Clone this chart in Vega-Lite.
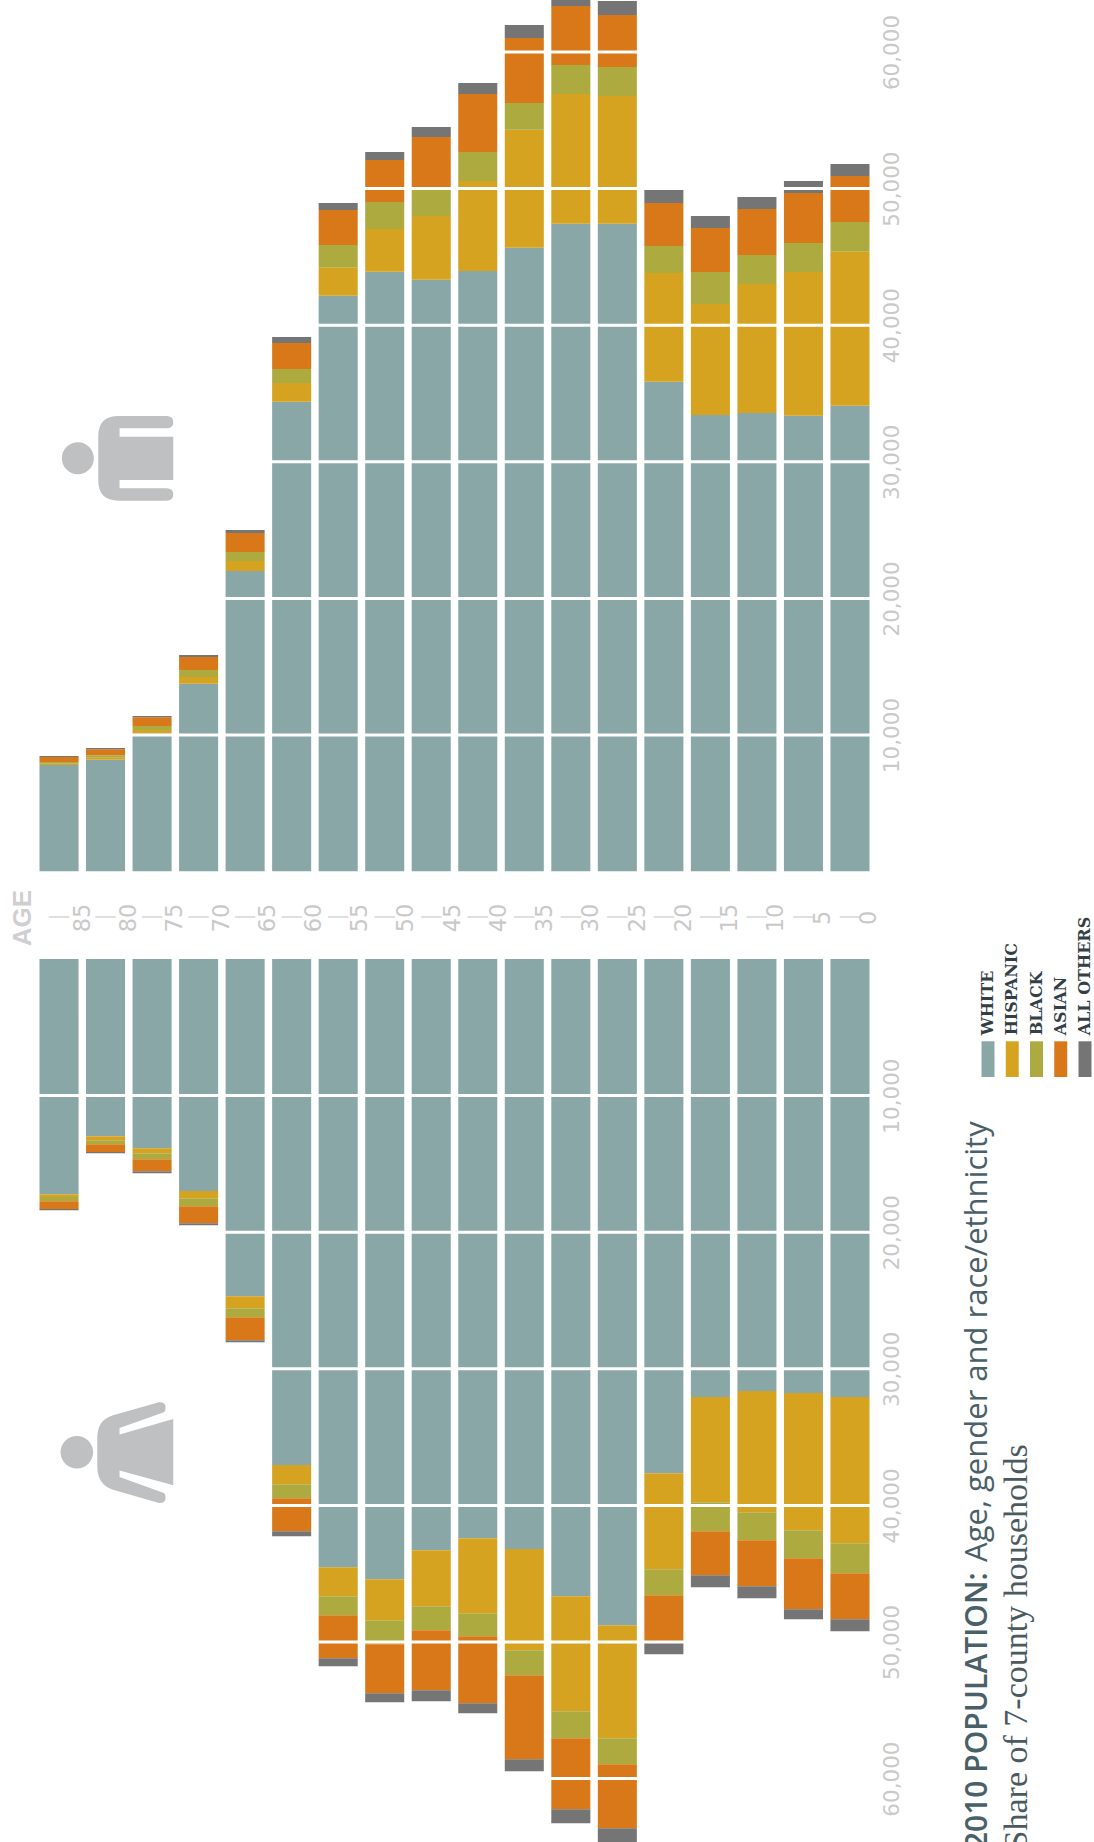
{"$schema":"https://vega.github.io/schema/vega-lite/v6.json","padding":0,"spacing":0,"bounds":"flush","background":"white","config":{"view":{"stroke":null},"numberFormat":",d","axis":{"labelFont":"DejaVu Sans","labelColor":"#c9c9c9","labelFontSize":21.5}},
"datasets":{
"male":[
{"age":"85+","White":7804,"Hispanic":95,"Black":124,"Asian":366,"Others":73},
{"age":"80","White":8191,"Hispanic":146,"Black":176,"Asian":439,"Others":95},
{"age":"75","White":10124,"Hispanic":242,"Black":293,"Asian":637,"Others":95},
{"age":"70","White":13754,"Hispanic":490,"Black":512,"Asian":952,"Others":146},
{"age":"65","White":22004,"Hispanic":732,"Black":659,"Asian":1391,"Others":220},
{"age":"60","White":34397,"Hispanic":1369,"Black":1025,"Asian":1903,"Others":439},
{"age":"55","White":42156,"Hispanic":2050,"Black":1662,"Asian":2562,"Others":512},
{"age":"50","White":43913,"Hispanic":3126,"Black":1976,"Asian":3074,"Others":586},
{"age":"45","White":43327,"Hispanic":4663,"Black":2050,"Asian":3733,"Others":732},
{"age":"40","White":43964,"Hispanic":6588,"Black":2123,"Asian":4246,"Others":805},
{"age":"35","White":45669,"Hispanic":8638,"Black":1954,"Asian":4758,"Others":952},
{"age":"30","White":47426,"Hispanic":9494,"Black":2123,"Asian":4319,"Others":878},
{"age":"25","White":47426,"Hispanic":9348,"Black":2123,"Asian":3806,"Others":1025},
{"age":"20","White":35861,"Hispanic":7957,"Black":1976,"Asian":3148,"Others":952},
{"age":"15","White":33423,"Hispanic":8125,"Black":2342,"Asian":3221,"Others":878},
{"age":"10","White":33570,"Hispanic":9443,"Black":2123,"Asian":3367,"Others":878},
{"age":"5","White":33372,"Hispanic":10519,"Black":2123,"Asian":3660,"Others":878},
{"age":"0","White":34104,"Hispanic":11273,"Black":2174,"Asian":3367,"Others":878}],
"female":[
{"age":"85+","White":17224,"Hispanic":198,"Black":315,"Asian":564,"Others":95},
{"age":"80","White":12978,"Hispanic":293,"Black":293,"Asian":564,"Others":95},
{"age":"75","White":13857,"Hispanic":366,"Black":439,"Asian":878,"Others":146},
{"age":"70","White":16982,"Hispanic":534,"Black":586,"Asian":1244,"Others":146},
{"age":"65","White":24690,"Hispanic":878,"Black":659,"Asian":1684,"Others":146},
{"age":"60","White":37039,"Hispanic":1413,"Black":1025,"Asian":2416,"Others":366},
{"age":"55","White":44528,"Hispanic":2123,"Black":1391,"Asian":3148,"Others":586},
{"age":"50","White":45406,"Hispanic":3001,"Black":1757,"Asian":3587,"Others":659},
{"age":"45","White":43283,"Hispanic":4099,"Black":1757,"Asian":4392,"Others":805},
{"age":"40","White":42405,"Hispanic":5490,"Black":1684,"Asian":4904,"Others":732},
{"age":"35","White":43188,"Hispanic":7415,"Black":1830,"Asian":6149,"Others":878},
{"age":"30","White":46650,"Hispanic":8418,"Black":1976,"Asian":5197,"Others":1025},
{"age":"25","White":48773,"Hispanic":8272,"Black":1903,"Asian":4685,"Others":1025},
{"age":"20","White":37647,"Hispanic":7027,"Black":1903,"Asian":3367,"Others":952},
{"age":"15","White":32062,"Hispanic":7708,"Black":2123,"Asian":3221,"Others":878},
{"age":"10","White":31622,"Hispanic":8879,"Black":2050,"Asian":3367,"Others":878},
{"age":"5","White":31769,"Hispanic":10050,"Black":2050,"Asian":3733,"Others":732},
{"age":"0","White":32062,"Hispanic":10709,"Black":2196,"Asian":3367,"Others":878}],
"ticks":[{"v":10000},{"v":20000},{"v":30000},{"v":40000},{"v":50000},{"v":60000}],
"ages":[{"age":"85+","num":85,"label":"85"},{"age":"80","num":80,"label":"80"},{"age":"75","num":75,"label":"75"},{"age":"70","num":70,"label":"70"},{"age":"65","num":65,"label":"65"},{"age":"60","num":60,"label":"60"},{"age":"55","num":55,"label":"55"},{"age":"50","num":50,"label":"50"},{"age":"45","num":45,"label":"45"},{"age":"40","num":40,"label":"40"},{"age":"35","num":35,"label":"35"},{"age":"30","num":30,"label":"30"},{"age":"25","num":25,"label":"25"},{"age":"20","num":20,"label":"20"},{"age":"15","num":15,"label":"15"},{"age":"10","num":10,"label":"10"},{"age":"5","num":5,"label":"5"},{"age":"0","num":0,"label":"0"}],
"legend":[{"race":"White","label":"WHITE"},{"race":"Hispanic","label":"HISPANIC"},{"race":"Black","label":"BLACK"},{"race":"Asian","label":"ASIAN"},{"race":"Others","label":"ALL OTHERS"}]
},
"vconcat":[
{"width":1094,"height":871.6,"layer":[
{"data":{"name":"male"},"transform":[{"fold":["White","Hispanic","Black","Asian","Others"],"as":["race","population"]},{"calculate":"indexof(['White','Hispanic','Black','Asian','Others'],datum.race)","as":"rank"}],
"mark":{"type":"bar","clip":true},
"encoding":{"x":{"field":"age","type":"nominal","axis":null,"scale":{"domain":["85+","80","75","70","65","60","55","50","45","40","35","30","25","20","15","10","5","0"],"range":[37.5,867.5],"paddingInner":0.161,"paddingOuter":0}},
"y":{"field":"population","type":"quantitative","stack":"zero","scale":{"domain":[0,63807],"nice":false},"axis":{"orient":"right","offset":-225,"values":[10000,20000,30000,40000,50000,60000],"format":",d","title":null,"domain":false,"ticks":false,"grid":false,"labelAngle":-90,"labelAlign":"center","labelBaseline":"middle","labelPadding":21,"zindex":1}},
"color":{"field":"race","type":"nominal","legend":null,"scale":{"domain":["White","Hispanic","Black","Asian","Others"],"range":["#8aa7a7","#d5a31f","#adab3f","#d97818","#757575"]}},
"order":{"field":"rank"}}},
{"data":{"name":"ticks"},"mark":{"type":"rule","color":"white","strokeWidth":3},"encoding":{"y":{"field":"v","type":"quantitative"}}},
{"data":{"values":[{"icon":"man"}]},"mark":{"type":"point","filled":true,"opacity":1,"color":"#bfc0c2","size":4,"shape":"M34,-42.3 L-14,-42.3 Q-34.3,-42.3 -34.3,-22 L-34.3,22 Q-34.3,42.4 -14,42.4 L34,42.4 Q40.7,42.4 40.7,36 Q40.7,30 34,30 L-13,30 L-13,21.7 L40.7,21.7 L40.7,-21.6 L-13,-21.6 L-13,-30 L34,-30 Q40.7,-30 40.7,-36 Q40.7,-42.3 34,-42.3 Z M-38.7,0 A16,16 0 1,1 -70.7,0 A16,16 0 1,1 -38.7,0 Z"},
"encoding":{"x":{"datum":"75","bandPosition":0},"y":{"datum":30256}}}
]},
{"width":1094,"height":86.1,"resolve":{"scale":{"x":"independent"}},"layer":[
{"data":{"name":"ages"},"mark":{"type":"tick","orient":"horizontal","size":20.5,"thickness":2,"color":"#d2d2d2"},
"encoding":{"x":{"field":"age","type":"nominal","axis":null,"scale":{"domain":["85+","80","75","70","65","60","55","50","45","40","35","30","25","20","15","10","5","0"],"range":[37.5,867.5],"paddingInner":0.161,"paddingOuter":0}},"y":{"datum":0.477,"axis":null,"scale":{"domain":[0,1]}}}},
{"data":{"name":"ages"},"mark":{"type":"text","angle":270,"align":"center","baseline":"middle","font":"DejaVu Sans","fontSize":22.5,"color":"#c9c9c9"},
"encoding":{"x":{"field":"num","type":"quantitative","axis":null,"scale":{"domain":[93.75,-24.58],"nice":false,"zero":false}},"y":{"datum":0.467,"axis":null,"scale":{"domain":[0,1]}},"text":{"field":"label"}}},
{"data":{"values":[{"label":"AGE"}]},"mark":{"type":"text","angle":270,"align":"center","baseline":"middle","font":"Liberation Sans","fontWeight":"bold","fontSize":26,"color":"#cfcfcf"},
"encoding":{"x":{"datum":0.0195,"axis":null,"scale":{"domain":[0,1]}},"y":{"datum":0.465,"axis":null,"scale":{"domain":[0,1]}},"text":{"field":"label"}}}
]},
{"width":1094,"height":884.3,"resolve":{"scale":{"x":"independent"}},"layer":[
{"data":{"name":"female"},"transform":[{"fold":["White","Hispanic","Black","Asian","Others"],"as":["race","population"]},{"calculate":"indexof(['White','Hispanic','Black','Asian','Others'],datum.race)","as":"rank"}],
"mark":{"type":"bar","clip":true},
"encoding":{"x":{"field":"age","type":"nominal","axis":null,"scale":{"domain":["85+","80","75","70","65","60","55","50","45","40","35","30","25","20","15","10","5","0"],"range":[37.5,867.5],"paddingInner":0.161,"paddingOuter":0}},
"y":{"field":"population","type":"quantitative","stack":"zero","scale":{"domain":[0,64737],"nice":false,"reverse":true},"axis":{"orient":"right","offset":-225,"values":[10000,20000,30000,40000,50000,60000],"format":",d","title":null,"domain":false,"ticks":false,"grid":false,"labelAngle":-90,"labelAlign":"center","labelBaseline":"middle","labelPadding":21,"zindex":1}},
"color":{"field":"race","type":"nominal","legend":null,"scale":{"domain":["White","Hispanic","Black","Asian","Others"],"range":["#8aa7a7","#d5a31f","#adab3f","#d97818","#757575"]}},
"order":{"field":"rank"}}},
{"data":{"name":"ticks"},"mark":{"type":"rule","color":"white","strokeWidth":3},"encoding":{"y":{"field":"v","type":"quantitative"}}},
{"data":{"values":[{"icon":"woman"}]},"mark":{"type":"point","filled":true,"opacity":1,"color":"#bfc0c2","size":4,"shape":"M26.3,-50 L-20.3,-36.7 Q-35.3,-32 -35.3,-14 L-35.3,14 Q-35.3,32 -20.3,37.3 L26.3,50.7 Q33,51 33,45.7 Q33,41.7 31.3,40.7 L-13,24.7 L-13,18.3 L40.7,33 L40.7,-33.3 L-13,-17.7 L-13,-24.3 L31.3,-40 Q33,-41 33,-45 Q33,-50.5 26.3,-50 Z M-39.4,0 A16.3,16.3 0 1,1 -72,0 A16.3,16.3 0 1,1 -39.4,0 Z"},
"encoding":{"x":{"datum":"75","bandPosition":0,"axis":null,"scale":{"type":"band","domain":["85+","80","75","70","65","60","55","50","45","40","35","30","25","20","15","10","5","0"],"range":[37.5,867.5],"paddingInner":0.161,"paddingOuter":0}},"y":{"datum":36113}}},
{"data":{"name":"legend"},"mark":{"type":"rect","width":13},
"encoding":{"x":{"field":"race","type":"nominal","axis":null,"scale":{"type":"point","padding":0,"domain":["White","Hispanic","Black","Asian","Others"],"range":[986,1083]}},"y":{"datum":6025},"y2":{"datum":8638},"color":{"field":"race","type":"nominal","legend":null}}},
{"data":{"name":"legend"},"mark":{"type":"text","angle":270,"align":"left","baseline":"middle","font":"DejaVu Serif","fontWeight":"bold","fontSize":16,"color":"#333f45"},
"encoding":{"x":{"field":"race","type":"nominal","axis":null,"scale":{"type":"point","padding":0,"domain":["White","Hispanic","Black","Asian","Others"],"range":[986,1083]}},"y":{"datum":5586},"text":{"field":"label"}}},
{"data":{"values":[{"t":"Age, gender and race/ethnicity"}]},"mark":{"type":"text","angle":270,"align":"right","baseline":"alphabetic","font":"Open Sans","fontSize":31,"color":"#4a6068"},
"encoding":{"x":{"datum":0.9,"axis":null,"scale":{"domain":[0,1]}},"y":{"datum":11881},"text":{"field":"t"}}},
{"data":{"values":[{"t":"2010 POPULATION:"}]},"mark":{"type":"text","angle":270,"align":"right","baseline":"alphabetic","font":"Open Sans","fontWeight":600,"fontSize":30,"color":"#4a6068"},
"encoding":{"x":{"datum":0.9,"axis":null,"scale":{"domain":[0,1]}},"y":{"datum":44900},"text":{"field":"t"}}},
{"data":{"values":[{"t":"Share of 7-county households"}]},"mark":{"type":"text","angle":270,"align":"right","baseline":"alphabetic","font":"Liberation Serif","fontSize":34,"color":"#4a5a60"},
"encoding":{"x":{"datum":0.9369,"axis":null,"scale":{"domain":[0,1]}},"y":{"datum":35527},"text":{"field":"t"}}}
]}
]}
